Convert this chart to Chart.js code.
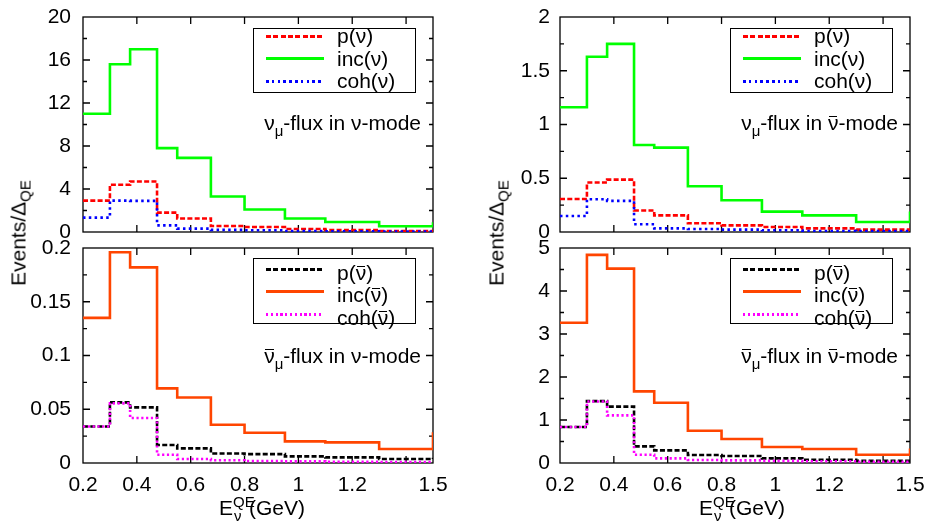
<!DOCTYPE html>
<html>
<head>
<meta charset="utf-8">
<script src="https://cdn.jsdelivr.net/npm/chart.js@4.4.1/dist/chart.umd.min.js"></script>
<style>
  body { margin: 0; background: #fff; width: 926px; height: 531px; position: relative; overflow: hidden;
         font-family: "Liberation Sans", Arial, sans-serif; font-size: 21px; color: #000; }
  canvas { position: absolute; }
  .txt { position: absolute; white-space: nowrap; line-height: 21px; }
  .txt sub { font-size: 15px; vertical-align: -6px; line-height: 0; }
  .bar { position: relative; }
  .bar::before { content: ""; position: absolute; left: 1px; right: 1px; top: 5px; border-top: 1.5px solid #000; }
  .legend { position: absolute; width: 163px; border: 1.4px solid #000; box-sizing: border-box; }
  .sample { position: absolute; left: 12px; width: 58px; height: 3px; }
  .label { position: absolute; left: 83px; line-height: 21px; white-space: nowrap; }
  .ytitle { position: absolute; white-space: nowrap; line-height: 21px; transform: translate(-50%, -50%) rotate(-90deg); }
  .ytitle sub { font-size: 15px; vertical-align: -5px; line-height: 0; }
  .xtitle { position: absolute; white-space: nowrap; line-height: 21px; transform: translateX(-50%); }
  .ss { display: inline-block; position: relative; width: 16px; height: 0; }
  .ss .sp { position: absolute; left: 0; bottom: 6px; font-size: 15px; line-height: 15px; }
  .ss .sb { position: absolute; left: 1px; top: -7px; font-size: 15px; line-height: 15px; }
</style>
</head>
<body>
<canvas id="tl" width="463" height="240" style="left:0;top:0"></canvas>
<canvas id="bl" width="463" height="291" style="left:0;top:240px"></canvas>
<canvas id="tr" width="463" height="240" style="left:463px;top:0"></canvas>
<canvas id="br" width="463" height="291" style="left:463px;top:240px"></canvas>

<script>
// bin edges of E_QE (GeV); every series has one value per bin plus the level just past 1.5
let binEdges = [0.2, 0.3, 0.375, 0.475, 0.55, 0.675, 0.8, 0.95, 1.1, 1.3, 1.5];

// nu_mu flux in nu-mode
let pNuNu   = [2.92, 4.4, 4.7, 1.8, 1.25, 0.56, 0.47, 0.28, 0.19, 0.1, 0.15];
let incNuNu = [11.0, 15.6, 17.0, 7.8, 6.9, 3.3, 2.1, 1.25, 0.93, 0.53, 0.9];
let cohNuNu = [1.34, 2.92, 2.9, 0.62, 0.31, 0.2, 0.16, 0.1, 0.07, 0.05, 0.06];

// nu_mu flux in nubar-mode
let pNuBar   = [0.307, 0.46, 0.487, 0.2, 0.155, 0.081, 0.062, 0.047, 0.034, 0.022, 0.03];
let incNuBar = [1.16, 1.63, 1.75, 0.81, 0.785, 0.425, 0.295, 0.19, 0.155, 0.093, 0.19];
let cohNuBar = [0.149, 0.305, 0.29, 0.072, 0.034, 0.028, 0.022, 0.016, 0.01, 0.008, 0.01];

// nubar_mu flux in nu-mode
let pBarNu   = [0.034, 0.0564, 0.0517, 0.0167, 0.0136, 0.0089, 0.0083, 0.0062, 0.0052, 0.0037, 0.005];
let incBarNu = [0.135, 0.196, 0.182, 0.0694, 0.061, 0.0356, 0.0282, 0.0201, 0.0192, 0.013, 0.0285];
let cohBarNu = [0.034, 0.0555, 0.0419, 0.0077, 0.0037, 0.0025, 0.0018, 0.0015, 0.0012, 0.001, 0.001];

// nubar_mu flux in nubar-mode
let pBarBar   = [0.837, 1.44, 1.31, 0.386, 0.293, 0.186, 0.163, 0.107, 0.077, 0.053, 0.07];
let incBarBar = [3.26, 4.84, 4.52, 1.665, 1.40, 0.75, 0.558, 0.372, 0.326, 0.193, 0.34];
let cohBarBar = [0.837, 1.43, 1.107, 0.193, 0.107, 0.07, 0.06, 0.05, 0.04, 0.03, 0.03];

let xTickValues = [0.2, 0.4, 0.6, 0.8, 1, 1.2, 1.4, 1.5];
let xTickLabels = ['0.2', '0.4', '0.6', '0.8', '1', '1.2', '', '1.5'];

let yTicksTL = [0, 4, 8, 12, 16, 20];
let yTicksTR = [0, 0.5, 1, 1.5, 2];
let yTicksBL = [0, 0.05, 0.1, 0.15, 0.2];
let yTicksBR = [0, 1, 2, 3, 4, 5];

let nuLabels  = ['p(ν)', 'inc(ν)', 'coh(ν)'];
let barLabels = ['p(<span class="bar">ν</span>)', 'inc(<span class="bar">ν</span>)', 'coh(<span class="bar">ν</span>)'];

let nuStyles = [
    { color: '#ff0000', dash: [5, 2.3] },
    { color: '#00ff00', dash: [] },
    { color: '#0000ff', dash: [2.5, 3.3] }
];
let barStyles = [
    { color: '#000000', dash: [5, 2.3] },
    { color: '#ff4500', dash: [] },
    { color: '#ff00ff', dash: [2.2, 2.6] }
];

Chart.defaults.font.family = '"Liberation Sans", Arial, sans-serif';

function toPoints(values) {
    return values.map((v, i) => ({ x: binEdges[i], y: v }));
}

// border box and inward gnuplot-like ticks
let frameTicks = {
    id: 'frameTicks',
    beforeDatasetsDraw(chart) {
        let ctx = chart.ctx;
        let a = chart.chartArea;
        let x = chart.scales.x;
        let y = chart.scales.y;
        ctx.save();
        ctx.strokeStyle = '#000';
        ctx.lineWidth = 1.3;
        ctx.strokeRect(a.left, a.top, a.right - a.left, a.bottom - a.top);
        ctx.beginPath();
        x.ticks.forEach(t => {
            let px = x.getPixelForValue(t.value);
            if (px < a.left + 1 || px > a.right - 1) return;
            ctx.moveTo(px, a.bottom); ctx.lineTo(px, a.bottom - 7);
            ctx.moveTo(px, a.top); ctx.lineTo(px, a.top + 7);
        });
        y.ticks.forEach((t, i) => {
            let py = y.getPixelForValue(t.value);
            if (py < a.top + 1 || py > a.bottom - 1) return;
            let len = i % 2 === 0 ? 7 : 4;
            ctx.moveTo(a.left, py); ctx.lineTo(a.left + len, py);
            ctx.moveTo(a.right, py); ctx.lineTo(a.right - len, py);
        });
        ctx.stroke();
        ctx.restore();
    }
};

function makePanel(id, series, styles, yMajors, yLabels, showX, box) {
    let yAll = [];
    for (let i = 0; i < yMajors.length; i++) {
        yAll.push(yMajors[i]);
        if (i < yMajors.length - 1) yAll.push((yMajors[i] + yMajors[i + 1]) / 2);
    }
    let datasets = [];
    for (let i = series.length - 1; i >= 0; i--) {
        datasets.push({
            data: toPoints(series[i]),
            borderColor: styles[i].color,
            borderDash: styles[i].dash,
            borderWidth: 2.6,
            borderCapStyle: 'butt',
            pointRadius: 0,
            stepped: true,
            fill: false
        });
    }
    return new Chart(document.getElementById(id), {
        type: 'line',
        data: { datasets: datasets },
        options: {
            responsive: false,
            animation: false,
            devicePixelRatio: 1,
            layout: { padding: { top: box.top, right: box.right, left: 0, bottom: 0 } },
            plugins: { legend: { display: false }, tooltip: { enabled: false } },
            scales: {
                x: {
                    type: 'linear', min: 0.2, max: 1.5,
                    grid: { display: false, drawTicks: false },
                    border: { display: false },
                    afterBuildTicks: s => { s.ticks = xTickValues.map(v => ({ value: v })); },
                    afterFit: s => { s.height = box.xh; s.paddingLeft = 0; s.paddingRight = 0; },
                    ticks: {
                        display: showX, autoSkip: false, maxRotation: 0, padding: 9.5,
                        color: '#000', font: { size: 21 },
                        callback: (v, i) => xTickLabels[i]
                    }
                },
                y: {
                    min: 0, max: yMajors[yMajors.length - 1],
                    grid: { display: false, drawTicks: false },
                    border: { display: false },
                    afterBuildTicks: s => { s.ticks = yAll.map(v => ({ value: v })); },
                    afterFit: s => { s.width = box.yw; s.paddingTop = 0; s.paddingBottom = 0; },
                    ticks: {
                        autoSkip: false, padding: box.yPad,
                        color: '#000', font: { size: 21 },
                        callback: (v, i) => i % 2 === 0 ? yLabels[i / 2] : ''
                    }
                }
            }
        },
        plugins: [frameTicks]
    });
}

makePanel('tl', [pNuNu, incNuNu, cohNuNu], nuStyles, yTicksTL, yTicksTL.map(String), false,
    { top: 17, right: 30, xh: 8, yw: 83, yPad: 12 });
makePanel('bl', [pBarNu, incBarNu, cohBarNu], barStyles, yTicksBL, yTicksBL.map(String), true,
    { top: 8, right: 30, xh: 68, yw: 83, yPad: 12 });
makePanel('tr', [pNuBar, incNuBar, cohNuBar], nuStyles, yTicksTR, yTicksTR.map(String), false,
    { top: 17, right: 16, xh: 8, yw: 97, yPad: 10 });
makePanel('br', [pBarBar, incBarBar, cohBarBar], barStyles, yTicksBR, yTicksBR.map(String), true,
    { top: 8, right: 16, xh: 68, yw: 97, yPad: 10 });

// pos: box left/top/height, first row centre, text baseline below row centre
function addLegend(pos, labels, styles) {
    let box = document.createElement('div');
    box.className = 'legend';
    box.style.left = pos.left + 'px';
    box.style.top = pos.top + 'px';
    box.style.height = pos.height + 'px';
    for (let i = 0; i < labels.length; i++) {
        let c = pos.first + 22.4 * i - 1.4;
        let sample = document.createElement('span');
        sample.className = 'sample';
        sample.style.top = (c - 1.5) + 'px';
        let s = styles[i];
        if (s.dash.length) {
            let a = s.dash[0], b = s.dash[0] + s.dash[1];
            sample.style.background = 'repeating-linear-gradient(to right, ' + s.color + ' 0 ' + a + 'px, transparent ' + a + 'px ' + b + 'px)';
        } else {
            sample.style.background = s.color;
        }
        let text = document.createElement('span');
        text.className = 'label';
        text.style.top = (c + pos.base - 17.8) + 'px';
        text.innerHTML = labels[i];
        box.appendChild(sample);
        box.appendChild(text);
    }
    document.body.appendChild(box);
}

function addText(cls, html, css) {
    let d = document.createElement('div');
    d.className = cls;
    d.innerHTML = html;
    Object.assign(d.style, css);
    document.body.appendChild(d);
}

addLegend({ left: 253, top: 27.7, height: 65, first: 9.3, base: 6.5 }, nuLabels, nuStyles);
addLegend({ left: 253, top: 258.3, height: 66, first: 11.7, base: 10 }, barLabels, barStyles);
addLegend({ left: 730, top: 27.7, height: 65, first: 9.3, base: 6.5 }, nuLabels, nuStyles);
addLegend({ left: 730, top: 258.3, height: 66, first: 11.7, base: 10 }, barLabels, barStyles);

addText('txt', 'ν<sub>μ</sub>-flux in ν-mode', { right: '505px', top: '112px' });
addText('txt', '<span class="bar">ν</span><sub>μ</sub>-flux in ν-mode', { right: '505px', top: '345px' });
addText('txt', 'ν<sub>μ</sub>-flux in <span class="bar">ν</span>-mode', { right: '28px', top: '112px' });
addText('txt', '<span class="bar">ν</span><sub>μ</sub>-flux in <span class="bar">ν</span>-mode', { right: '28px', top: '345px' });

addText('ytitle', 'Events/Δ<sub>QE</sub>', { left: '17.7px', top: '233px' });
addText('ytitle', 'Events/Δ<sub>QE</sub>', { left: '495.7px', top: '233px' });

let xTitle = 'E<span class="ss"><span class="sp">QE</span><span class="sb">ν</span></span>(GeV)';
addText('xtitle', xTitle, { left: '262px', top: '497px' });
addText('xtitle', xTitle, { left: '742px', top: '497px' });
</script>
</body>
</html>
